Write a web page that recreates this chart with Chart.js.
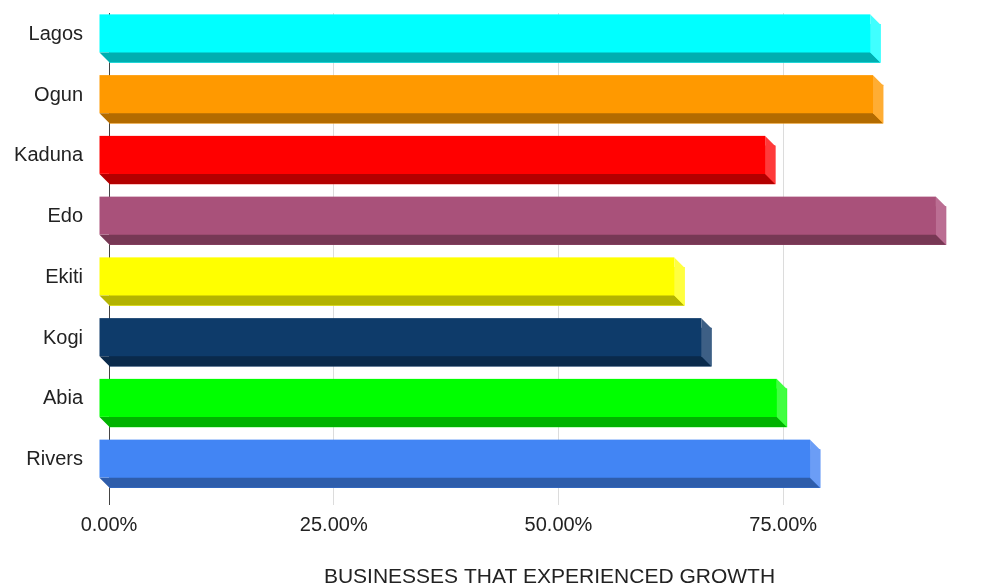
<!DOCTYPE html>
<html>
<head>
<meta charset="utf-8">
<script src="https://cdn.jsdelivr.net/npm/chart.js@4/dist/chart.umd.min.js"></script>
<style>
  body { margin: 0; background: #fff; }
  #wrap { width: 998px; height: 588px; }
</style>
</head>
<body>
<div id="wrap"><canvas id="growthChart"></canvas></div>
<script>
const states = ['Lagos', 'Ogun', 'Kaduna', 'Edo', 'Ekiti', 'Kogi', 'Abia', 'Rivers'];
const growth = [85.8, 86.1, 74.1, 93.1, 64.0, 67.0, 75.4, 79.1];
const tickValues = [0, 25, 50, 75];

// face colours for the 3D look
const frontColors = ['#00ffff', '#ff9900', '#ff0000', '#a9517a', '#ffff00', '#0e3b6a', '#00ff00', '#4285f4'];
const bottomColors = ['#00aeb0', '#b36b00', '#b30000', '#773854', '#b3b300', '#0a2a4b', '#00b300', '#2e5dab'];
const sideColors = ['#40ffff', '#ffad33', '#ff3a3a', '#bb6e93', '#ffff40', '#3d5f85', '#40ff40', '#6b9df6'];

const DEPTH = 10;

const bars3d = {
  id: 'bars3d',
  afterDatasetsDraw(chart) {
    const ctx = chart.ctx;
    const meta = chart.getDatasetMeta(0);
    ctx.save();
    meta.data.forEach((bar, i) => {
      const p = bar.getProps(['x', 'y', 'base', 'height'], true);
      const top = p.y - p.height / 2;
      const bottom = p.y + p.height / 2;
      const d = DEPTH;

      // front face
      ctx.fillStyle = frontColors[i];
      ctx.fillRect(p.base - d, top - d, p.x - p.base, p.height);

      // bottom face
      ctx.fillStyle = bottomColors[i];
      ctx.beginPath();
      ctx.moveTo(p.base - d, bottom - d);
      ctx.lineTo(p.x - d, bottom - d);
      ctx.lineTo(p.x, bottom);
      ctx.lineTo(p.base, bottom);
      ctx.closePath();
      ctx.fill();

      // right side face
      ctx.fillStyle = sideColors[i];
      ctx.beginPath();
      ctx.moveTo(p.x - d, top - d);
      ctx.lineTo(p.x, top);
      ctx.lineTo(p.x, bottom);
      ctx.lineTo(p.x - d, bottom - d);
      ctx.closePath();
      ctx.fill();
    });
    ctx.restore();
  }
};

Chart.defaults.font.family = "'Liberation Sans', Arial, sans-serif";
Chart.defaults.color = '#222';

new Chart(document.getElementById('growthChart'), {
  type: 'bar',
  data: {
    labels: states,
    datasets: [{
      data: growth,
      backgroundColor: frontColors,
      barThickness: 38
    }]
  },
  options: {
    indexAxis: 'y',
    responsive: true,
    maintainAspectRatio: false,
    animation: false,
    layout: { padding: { top: 13, right: 8, bottom: 0, left: 0 } },
    plugins: {
      legend: { display: false },
      tooltip: { enabled: false }
    },
    scales: {
      x: {
        min: 0,
        max: 98,
        afterBuildTicks(scale) {
          scale.ticks = tickValues.map(v => ({ value: v }));
        },
        ticks: {
          font: { size: 20 },
          padding: 8,
          callback: v => v.toFixed(2) + '%'
        },
        grid: {
          color: c => (c.tick && c.tick.value === 0) ? '#444' : '#dcdcdc',
          tickLength: 6
        },
        border: { display: false },
        title: {
          display: true,
          text: 'BUSINESSES THAT EXPERIENCED GROWTH',
          font: { size: 21, lineHeight: 1.0 },
          padding: { top: 22, bottom: 0 }
        }
      },
      y: {
        afterFit(scale) { scale.width = 109; },
        ticks: {
          font: { size: 20 },
          padding: 0,
          labelOffset: -9
        },
        grid: {
          drawOnChartArea: false,
          drawTicks: true,
          tickLength: 26,
          color: 'rgba(0,0,0,0)'
        },
        border: { display: false }
      }
    }
  },
  plugins: [bars3d]
});
</script>
</body>
</html>
